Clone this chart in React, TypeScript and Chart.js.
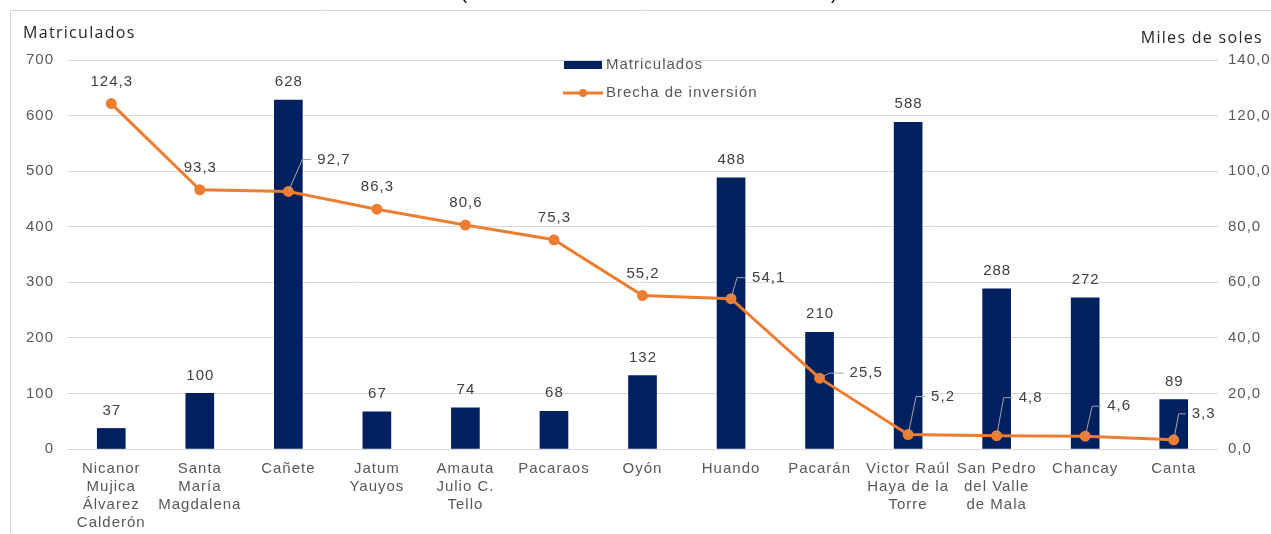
import React, { useEffect, useRef } from "react";
import { Chart, registerables } from "chart.js";

Chart.register(...registerables);

const categories: (string | string[])[] = [
  ["Nicanor", "Mujica", "Álvarez", "Calderón"],
  ["Santa", "María", "Magdalena"],
  "Cañete",
  ["Jatum", "Yauyos"],
  ["Amauta", "Julio C.", "Tello"],
  "Pacaraos",
  "Oyón",
  "Huando",
  "Pacarán",
  ["Victor Raúl", "Haya de la", "Torre"],
  ["San Pedro", "del Valle", "de Mala"],
  "Chancay",
  "Canta",
];

const matriculados = [37, 100, 628, 67, 74, 68, 132, 488, 210, 588, 288, 272, 89];
const brecha = [124.3, 93.3, 92.7, 86.3, 80.6, 75.3, 55.2, 54.1, 25.5, 5.2, 4.8, 4.6, 3.3];

const leftTicksMax = 700;
const leftStep = 100;
const rightTicksMax = 140;
const rightStep = 20;

// label callouts for the line series (index -> [elbow dx, elbow dy, horizontal length])
const callouts: Record<number, [number, number, number]> = {
  2: [14, -32, 9],
  7: [6, -21, 9],
  8: [10, -5, 14],
  9: [8, -38, 9],
  10: [7, -38, 9],
  11: [7, -30, 9],
  12: [5, -26, 7],
};

const BAR_COLOR = "#002060";
const LINE_COLOR = "#ED7D31";
const FONT = "'Liberation Sans', Arial, sans-serif";
const SPACING = "1px";
const fmt = (v: number) => v.toFixed(1).replace(".", ",");

const decorPlugin = {
  id: "decor",
  beforeDraw(chart: any) {
    const ctx = chart.ctx as CanvasRenderingContext2D;
    ctx.save();
    ctx.fillStyle = "#ffffff";
    ctx.fillRect(0, 0, chart.width, chart.height);
    ctx.strokeStyle = "#D9D9D9";
    ctx.lineWidth = 1;
    ctx.beginPath();
    ctx.moveTo(10.5, chart.height);
    ctx.lineTo(10.5, 10.5);
    ctx.lineTo(chart.width, 10.5);
    ctx.stroke();
    // cut-off title parentheses
    ctx.fillStyle = "#000000";
    ctx.font = `18px ${FONT}`;
    ctx.textBaseline = "alphabetic";
    ctx.textAlign = "left";
    ctx.fillText("(", 461, -1);
    ctx.fillText(")", 831, -1);
    ctx.restore();
    (ctx as any).letterSpacing = SPACING;
  },
  afterDraw(chart: any) {
    const ctx = chart.ctx as CanvasRenderingContext2D;
    ctx.save();
    // axis titles
    (ctx as any).letterSpacing = "1.3px";
    ctx.fillStyle = "#262626";
    ctx.font = `16px 'Open Sans', sans-serif`;
    ctx.textBaseline = "middle";
    ctx.textAlign = "left";
    ctx.fillText("Matriculados", 23, 33);
    ctx.textAlign = "right";
    ctx.fillText("Miles de soles", 1263, 38);
    (ctx as any).letterSpacing = SPACING;

    // legend
    const lx = 564;
    ctx.fillStyle = BAR_COLOR;
    ctx.fillRect(lx, 61, 38, 8);
    ctx.strokeStyle = LINE_COLOR;
    ctx.lineWidth = 3;
    ctx.beginPath();
    ctx.moveTo(lx - 1, 93);
    ctx.lineTo(lx + 39, 93);
    ctx.stroke();
    ctx.fillStyle = LINE_COLOR;
    ctx.beginPath();
    ctx.arc(lx + 19, 93, 4, 0, Math.PI * 2);
    ctx.fill();
    ctx.fillStyle = "#595959";
    ctx.font = `15px ${FONT}`;
    ctx.textAlign = "left";
    ctx.fillText(chart.data.datasets[0].label, 606, 65);
    ctx.fillText(chart.data.datasets[1].label, 606, 93);

    // data labels
    ctx.fillStyle = "#404040";
    ctx.font = `15px ${FONT}`;
    const barMeta = chart.getDatasetMeta(0);
    barMeta.data.forEach((el: any, i: number) => {
      ctx.textAlign = "center";
      ctx.fillText(String(chart.data.datasets[0].data[i]), el.x + 0.5, el.y - 18);
    });
    const lineMeta = chart.getDatasetMeta(1);
    lineMeta.data.forEach((el: any, i: number) => {
      const txt = fmt(chart.data.datasets[1].data[i]);
      const c = callouts[i];
      if (c) {
        const ex = el.x + c[0];
        const ey = el.y + c[1];
        ctx.strokeStyle = "#A6A6A6";
        ctx.lineWidth = 1;
        ctx.beginPath();
        ctx.moveTo(el.x, el.y);
        ctx.lineTo(ex, ey);
        ctx.lineTo(ex + c[2], ey);
        ctx.stroke();
        ctx.textAlign = "left";
        ctx.fillText(txt, ex + c[2] + 6, ey);
      } else {
        ctx.textAlign = "center";
        ctx.fillText(txt, el.x + 0.5, el.y - 22);
      }
    });
    ctx.restore();
  },
};

export default function App() {
  const ref = useRef<HTMLCanvasElement>(null);
  useEffect(() => {
    if (!ref.current) return;
    const chart = new Chart(ref.current, {
      type: "bar",
      data: {
        labels: categories,
        datasets: [
          {
            type: "bar",
            label: "Matriculados",
            data: matriculados,
            backgroundColor: BAR_COLOR,
            barThickness: 28,
            yAxisID: "y",
            order: 2,
          },
          {
            type: "line",
            label: "Brecha de inversión",
            data: brecha,
            borderColor: LINE_COLOR,
            backgroundColor: LINE_COLOR,
            borderWidth: 3,
            pointRadius: 4,
            pointBackgroundColor: LINE_COLOR,
            pointBorderColor: LINE_COLOR,
            tension: 0,
            yAxisID: "y1",
            order: 1,
          } as any,
        ],
      },
      options: {
        animation: false,
        responsive: false,
        maintainAspectRatio: false,
        layout: { padding: { top: 60, left: 0, right: 0, bottom: 0 } },
        plugins: { legend: { display: false }, tooltip: { enabled: false }, title: { display: false } },
        scales: {
          x: {
            grid: { display: false, drawTicks: false },
            border: { display: false },
            ticks: {
              autoSkip: false,
              maxRotation: 0,
              minRotation: 0,
              padding: 11,
              color: "#595959",
              font: { family: FONT, size: 15, lineHeight: 1.2 },
            },
            afterFit: (s: any) => {
              s.height = 85;
            },
          },
          y: {
            position: "left",
            min: 0,
            max: leftTicksMax,
            ticks: {
              stepSize: leftStep,
              padding: 13,
              color: "#595959",
              font: { family: FONT, size: 15 },
            },
            grid: { color: "#D9D9D9", drawTicks: false, lineWidth: 1 },
            border: { display: false },
            afterFit: (s: any) => {
              s.width = 67;
            },
          },
          y1: {
            position: "right",
            min: 0,
            max: rightTicksMax,
            ticks: {
              stepSize: rightStep,
              padding: 10,
              color: "#595959",
              font: { family: FONT, size: 15 },
              callback: (v: any) => fmt(Number(v)),
            },
            grid: { display: false, drawTicks: false },
            border: { display: false },
            afterFit: (s: any) => {
              s.width = 53;
            },
          },
        },
      },
      plugins: [decorPlugin],
    });
    return () => chart.destroy();
  }, []);
  return (
    <div style={{ position: "fixed", left: 0, top: 0, width: 1271, height: 534, background: "#fff" }}>
      <canvas ref={ref} width={1271} height={534} style={{ display: "block" }} />
    </div>
  );
}
